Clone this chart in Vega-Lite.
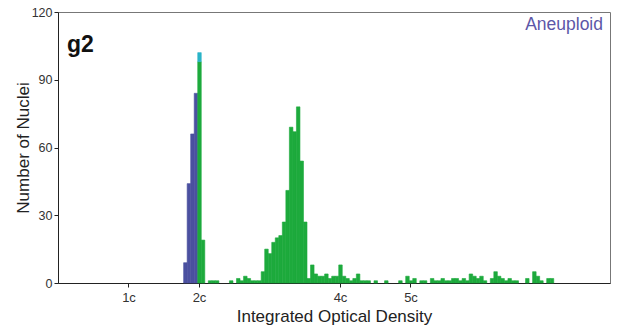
{
  "$schema": "https://vega.github.io/schema/vega-lite/v6.json",
  "width": 552,
  "height": 271,
  "autosize": "none",
  "padding": {"left": 58, "top": 12, "right": 10, "bottom": 50},
  "background": "white",
  "config": {
    "view": {"stroke": "#777", "strokeWidth": 1},
    "font": "Liberation Sans",
    "axis": {"domainColor": "#222", "tickColor": "#222", "labelColor": "#333", "titleColor": "#222", "grid": false, "titleFontWeight": "normal", "titleFontSize": 17}
  },
  "title": {"text": "g2", "anchor": "start", "frame": "group", "orient": "top", "offset": -51, "dx": 9, "fontSize": 23, "fontWeight": "bold", "color": "#111"},
  "layer": [
    {
      "data": {"values": [
        {"lo": 35.5, "n": 9, "s": "Reference"},
        {"lo": 36.5, "n": 44, "s": "Reference"},
        {"lo": 37.5, "n": 66, "s": "Reference"},
        {"lo": 38.5, "n": 84, "s": "Reference"},
        {"lo": 39.5, "n": 98, "s": "Sample"},
        {"lo": 39.5, "n": 4, "s": "Both"},
        {"lo": 40.5, "n": 19, "s": "Sample"},
        {"lo": 42.5, "n": 1, "s": "Sample"},
        {"lo": 43.5, "n": 1, "s": "Sample"},
        {"lo": 44.5, "n": 1, "s": "Sample"},
        {"lo": 48.5, "n": 1, "s": "Sample"},
        {"lo": 50.5, "n": 2, "s": "Sample"},
        {"lo": 51.5, "n": 1, "s": "Sample"},
        {"lo": 52.5, "n": 3, "s": "Sample"},
        {"lo": 53.5, "n": 2, "s": "Sample"},
        {"lo": 54.5, "n": 1, "s": "Sample"},
        {"lo": 55.5, "n": 1, "s": "Sample"},
        {"lo": 56.5, "n": 1, "s": "Sample"},
        {"lo": 57.5, "n": 5, "s": "Sample"},
        {"lo": 58.5, "n": 15, "s": "Sample"},
        {"lo": 59.5, "n": 13, "s": "Sample"},
        {"lo": 60.5, "n": 18, "s": "Sample"},
        {"lo": 61.5, "n": 20, "s": "Sample"},
        {"lo": 62.5, "n": 21, "s": "Sample"},
        {"lo": 63.5, "n": 27, "s": "Sample"},
        {"lo": 64.5, "n": 41, "s": "Sample"},
        {"lo": 65.5, "n": 69, "s": "Sample"},
        {"lo": 66.5, "n": 67, "s": "Sample"},
        {"lo": 67.5, "n": 78, "s": "Sample"},
        {"lo": 68.5, "n": 54, "s": "Sample"},
        {"lo": 69.5, "n": 27, "s": "Sample"},
        {"lo": 70.5, "n": 2, "s": "Sample"},
        {"lo": 71.5, "n": 8, "s": "Sample"},
        {"lo": 72.5, "n": 4, "s": "Sample"},
        {"lo": 73.5, "n": 3, "s": "Sample"},
        {"lo": 74.5, "n": 3, "s": "Sample"},
        {"lo": 75.5, "n": 4, "s": "Sample"},
        {"lo": 76.5, "n": 2, "s": "Sample"},
        {"lo": 77.5, "n": 3, "s": "Sample"},
        {"lo": 78.5, "n": 3, "s": "Sample"},
        {"lo": 79.5, "n": 8, "s": "Sample"},
        {"lo": 80.5, "n": 3, "s": "Sample"},
        {"lo": 81.5, "n": 2, "s": "Sample"},
        {"lo": 82.5, "n": 1, "s": "Sample"},
        {"lo": 83.5, "n": 2, "s": "Sample"},
        {"lo": 84.5, "n": 4, "s": "Sample"},
        {"lo": 85.5, "n": 1, "s": "Sample"},
        {"lo": 86.5, "n": 1, "s": "Sample"},
        {"lo": 87.5, "n": 1, "s": "Sample"},
        {"lo": 89.5, "n": 1, "s": "Sample"},
        {"lo": 92.5, "n": 1, "s": "Sample"},
        {"lo": 96.5, "n": 1, "s": "Sample"},
        {"lo": 98.5, "n": 3, "s": "Sample"},
        {"lo": 99.5, "n": 1, "s": "Sample"},
        {"lo": 100.5, "n": 2, "s": "Sample"},
        {"lo": 102.5, "n": 1, "s": "Sample"},
        {"lo": 103.5, "n": 1, "s": "Sample"},
        {"lo": 105.5, "n": 2, "s": "Sample"},
        {"lo": 106.5, "n": 1, "s": "Sample"},
        {"lo": 107.5, "n": 1, "s": "Sample"},
        {"lo": 108.5, "n": 2, "s": "Sample"},
        {"lo": 109.5, "n": 1, "s": "Sample"},
        {"lo": 110.5, "n": 1, "s": "Sample"},
        {"lo": 111.5, "n": 2, "s": "Sample"},
        {"lo": 112.5, "n": 2, "s": "Sample"},
        {"lo": 113.5, "n": 1, "s": "Sample"},
        {"lo": 114.5, "n": 2, "s": "Sample"},
        {"lo": 115.5, "n": 1, "s": "Sample"},
        {"lo": 116.5, "n": 4, "s": "Sample"},
        {"lo": 117.5, "n": 3, "s": "Sample"},
        {"lo": 118.5, "n": 2, "s": "Sample"},
        {"lo": 119.5, "n": 3, "s": "Sample"},
        {"lo": 120.5, "n": 1, "s": "Sample"},
        {"lo": 122.5, "n": 2, "s": "Sample"},
        {"lo": 123.5, "n": 5, "s": "Sample"},
        {"lo": 124.5, "n": 3, "s": "Sample"},
        {"lo": 125.5, "n": 2, "s": "Sample"},
        {"lo": 126.5, "n": 1, "s": "Sample"},
        {"lo": 127.5, "n": 2, "s": "Sample"},
        {"lo": 128.5, "n": 1, "s": "Sample"},
        {"lo": 129.5, "n": 1, "s": "Sample"},
        {"lo": 132.5, "n": 2, "s": "Sample"},
        {"lo": 134.5, "n": 5, "s": "Sample"},
        {"lo": 135.5, "n": 3, "s": "Sample"},
        {"lo": 136.5, "n": 1, "s": "Sample"},
        {"lo": 138.5, "n": 2, "s": "Sample"},
        {"lo": 139.5, "n": 2, "s": "Sample"}
      ]},
      "mark": {"type": "bar", "binSpacing": 0, "strokeWidth": 0.6},
      "encoding": {
        "x": {
          "field": "lo", "type": "quantitative", "bin": {"binned": true, "step": 1},
          "scale": {"domain": [0, 156.6], "nice": false, "zero": false},
          "axis": {"values": [20, 40, 80, 100], "labelExpr": "(datum.value / 20) + 'c'", "title": "Integrated Optical Density", "labelFontSize": 13, "tickSize": 4, "labelPadding": 4, "titlePadding": 4}
        },
        "y": {
          "field": "n", "type": "quantitative", "stack": "zero",
          "scale": {"domain": [0, 120], "nice": false},
          "axis": {"values": [0, 30, 60, 90, 120], "title": "Number of Nuclei", "labelFontSize": 12.5, "tickSize": 4, "labelPadding": 2, "titlePadding": -1}
        },
        "color": {"field": "s", "type": "nominal", "scale": {"domain": ["Reference", "Sample", "Both"], "range": ["#4B50A0", "#1DAA3C", "#2AB4C8"]}, "legend": null},
        "stroke": {"field": "s", "type": "nominal", "scale": {"domain": ["Reference", "Sample", "Both"], "range": ["#4B50A0", "#1DAA3C", "#2AB4C8"]}, "legend": null},
        "order": {"field": "s", "sort": "descending"}
      }
    },
    {
      "data": {"values": [{"label": "Aneuploid"}]},
      "mark": {"type": "text", "align": "right", "baseline": "alphabetic", "dx": -7, "dy": 18, "fontSize": 17.5, "color": "#5C57A8"},
      "encoding": {
        "x": {"datum": 156.6},
        "y": {"datum": 120},
        "text": {"field": "label"}
      }
    }
  ]
}
